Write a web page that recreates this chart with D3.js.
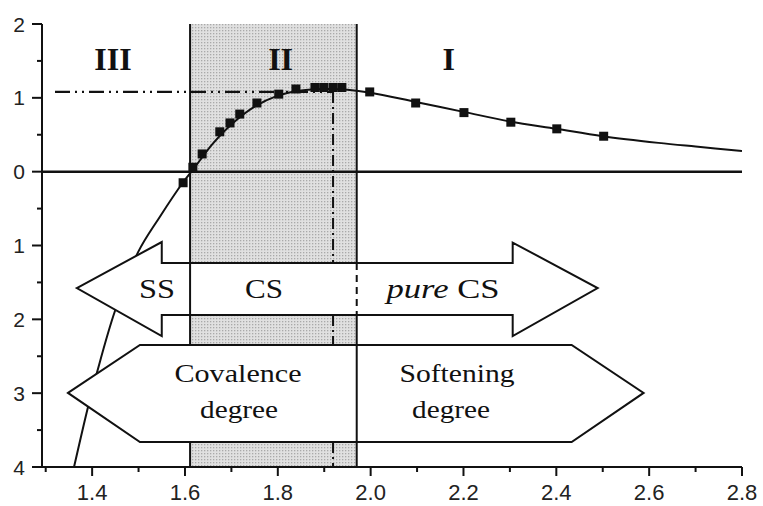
<!DOCTYPE html>
<html>
<head>
<meta charset="utf-8">
<script src="https://cdn.jsdelivr.net/npm/d3@7"></script>
<style>
body { margin: 0; background: #fff; }
</style>
</head>
<body>
<div id="svg1"></div>
<script>
// x ticks / y ticks (y labels shown without sign, as in the figure)
var xTicks = [1.4, 1.6, 1.8, 2.0, 2.2, 2.4, 2.6, 2.8];
var yTicks = [2, 1, 0, -1, -2, -3, -4];
var yTickLabels = ["2", "1", "0", "1", "2", "3", "4"];

// measured points (squares)
var pointsX = [1.596, 1.617, 1.637, 1.675, 1.697, 1.718, 1.755, 1.802, 1.839, 1.880, 1.899, 1.919, 1.938, 1.998, 2.097, 2.201, 2.302, 2.401, 2.502];
var pointsY = [-0.15, 0.06, 0.24, 0.54, 0.66, 0.78, 0.93, 1.05, 1.12, 1.14, 1.14, 1.14, 1.14, 1.08, 0.93, 0.80, 0.67, 0.58, 0.48];

// fitted curve
var curveX = [1.361, 1.391, 1.410, 1.449, 1.499, 1.546, 1.594, 1.620, 1.660, 1.700, 1.750, 1.800, 1.850, 1.900, 1.950, 2.000, 2.100, 2.200, 2.300, 2.400, 2.500, 2.620, 2.700, 2.800];
var curveY = [-4.0, -3.19, -2.73, -1.89, -1.09, -0.61, -0.16, 0.05, 0.38, 0.64, 0.88, 1.03, 1.10, 1.12, 1.11, 1.07, 0.94, 0.81, 0.68, 0.58, 0.48, 0.39, 0.34, 0.28];

// regions
var regionLabels = ["III", "II", "I"];
var regionLabelX = [1.445, 1.806, 2.168];
var regionII = [1.611, 1.970];
var peakX = 1.919, peakY = 1.08;

function DessinV() {
	var screen_width = 763, screen_height = 506;
	var svg = d3.select('#svg1').append("svg").attr("width", screen_width).attr("height", screen_height)
		.style("display", "block");

	var x = d3.scaleLinear().domain([1.292, 2.8]).range([42, 742]);
	var y = d3.scaleLinear().domain([2, -4]).range([24, 467]);

	// arrow bands (y, data units)
	var upTop = -1.237, upBot = -1.942, lowTop = -2.347, lowBot = -3.661;

	// dotted texture for region II
	var defs = svg.append("defs");
	var pat = defs.append("pattern").attr("id", "dots").attr("width", 3).attr("height", 3)
		.attr("patternUnits", "userSpaceOnUse");
	pat.append("rect").attr("width", 3).attr("height", 3).attr("fill", "#e0e0e0");
	pat.append("rect").attr("width", 1.3).attr("height", 1.3).attr("fill", "#a9a9a9");
	defs.append("clipPath").attr("id", "clip").append("rect")
		.attr("x", x(1.292)).attr("y", y(2)).attr("width", x(2.8) - x(1.292)).attr("height", y(-4) - y(2));

	svg.append("rect").attr("x", x(regionII[0])).attr("y", y(2))
		.attr("width", x(regionII[1]) - x(regionII[0])).attr("height", y(-4) - y(2))
		.attr("fill", "url(#dots)");

	function vline(xv, y1, y2, w, dash) {
		var l = svg.append("line").attr("x1", x(xv)).attr("x2", x(xv)).attr("y1", y(y1)).attr("y2", y(y2))
			.attr("stroke", "#111").attr("stroke-width", w);
		if (dash) l.attr("stroke-dasharray", dash);
		return l;
	}

	// region borders (they stop where the big arrows cover them)
	vline(regionII[0], 2, lowTop, 2);
	vline(regionII[0], lowBot, -4, 2);
	vline(regionII[1], 2, upTop, 2);
	vline(regionII[1], upBot, -4, 2);

	// dash-dot guides to the maximum
	svg.append("line").attr("x1", x(1.32)).attr("x2", x(peakX)).attr("y1", y(peakY)).attr("y2", y(peakY))
		.attr("stroke", "#111").attr("stroke-width", 2.2).attr("stroke-dasharray", "15,5,2,5,2,5");
	vline(peakX, peakY, upTop, 2, "11,4,2,4");
	vline(peakX, upBot, lowTop, 2, "11,4,2,4");
	vline(peakX, lowBot, -4, 2, "11,4,2,4");

	// zero line
	svg.append("line").attr("x1", x(1.292)).attr("x2", x(2.8)).attr("y1", y(0)).attr("y2", y(0))
		.attr("stroke", "#111").attr("stroke-width", 2.5);

	// curve
	var curveData = curveX.map(function(d, i) { return [d, curveY[i]]; });
	var line = d3.line().x(function(d) { return x(d[0]); }).y(function(d) { return y(d[1]); })
		.curve(d3.curveCatmullRom.alpha(0.5));
	svg.append("path").datum(curveData).attr("d", line).attr("clip-path", "url(#clip)")
		.attr("fill", "none").attr("stroke", "#111").attr("stroke-width", 2);

	// squares
	var pts = pointsX.map(function(d, i) { return [d, pointsY[i]]; });
	svg.selectAll(".pt").data(pts).enter().append("rect").classed("pt", 1)
		.attr("x", function(d) { return x(d[0]) - 4.5; })
		.attr("y", function(d) { return y(d[1]) - 4.5; })
		.attr("width", 9).attr("height", 9).attr("fill", "#111");

	// upper arrow : SS <- | CS | pure CS ->
	var up = [[1.367, -1.576], [1.550, -0.953], [1.550, upTop], [2.306, upTop], [2.306, -0.960],
		[2.489, -1.576], [2.306, -2.226], [2.306, upBot], [1.550, upBot], [1.550, -2.226]];
	svg.append("path").attr("d", "M" + up.map(function(p) { return x(p[0]) + "," + y(p[1]); }).join("L") + "Z")
		.attr("fill", "#fff").attr("stroke", "#111").attr("stroke-width", 2);
	vline(regionII[1], upTop, upBot, 2, "7,5");

	// lower arrow : covalence / softening
	var low = [[1.348, -2.997], [1.503, lowTop], [2.433, lowTop], [2.588, -2.997], [2.433, lowBot], [1.503, lowBot]];
	svg.append("path").attr("d", "M" + low.map(function(p) { return x(p[0]) + "," + y(p[1]); }).join("L") + "Z")
		.attr("fill", "#fff").attr("stroke", "#111").attr("stroke-width", 2);
	vline(regionII[0], upTop, upBot, 2);
	vline(regionII[1], lowTop, lowBot, 2);

	// texts
	var serif = "'Liberation Serif', 'DejaVu Serif', serif";
	function label(tx, ty, size, len) {
		var t = svg.append("text").attr("x", tx).attr("y", ty).attr("text-anchor", "middle")
			.attr("font-family", serif).attr("font-size", size).attr("fill", "#111");
		if (len) t.attr("textLength", len).attr("lengthAdjust", "spacingAndGlyphs");
		return t;
	}
	regionLabels.forEach(function(r, i) {
		label(x(regionLabelX[i]), 70, 32).attr("font-weight", "bold").text(r);
	});
	label(157, 298, 27, 36).text("SS");
	label(264, 298, 27, 38).text("CS");
	var pc = label(443, 298, 27, 113);
	pc.append("tspan").attr("font-style", "italic").text("pure");
	pc.append("tspan").text(" CS");
	label(238, 382, 26, 127).text("Covalence");
	label(239, 418, 26, 78).text("degree");
	label(457, 382, 26, 115).text("Softening");
	label(451, 418, 26, 78).text("degree");

	// axes
	var sans = "'Liberation Sans', Arial, sans-serif";
	var ax = svg.append("g").attr("stroke", "#111").attr("stroke-width", 2);
	ax.append("line").attr("x1", x(1.292)).attr("x2", x(2.8)).attr("y1", y(-4)).attr("y2", y(-4));
	ax.append("line").attr("x1", x(1.292)).attr("x2", x(1.292)).attr("y1", y(2)).attr("y2", y(-4));

	var xMinor = d3.range(1.3, 2.81, 0.1);
	ax.selectAll(".xm").data(xMinor).enter().append("line")
		.attr("x1", function(d) { return x(d); }).attr("x2", function(d) { return x(d); })
		.attr("y1", y(-4)).attr("y2", function(d, i) { return y(-4) + (i % 2 == 1 ? 9 : 5); });
	var yMinor = d3.range(-4, 2.01, 0.5);
	ax.selectAll(".ym").data(yMinor).enter().append("line")
		.attr("y1", function(d) { return y(d); }).attr("y2", function(d) { return y(d); })
		.attr("x1", x(1.292)).attr("x2", function(d, i) { return x(1.292) - (i % 2 == 0 ? 10 : 5); });

	svg.selectAll(".xl").data(xTicks).enter().append("text")
		.attr("x", function(d) { return x(d); }).attr("y", 500).attr("text-anchor", "middle")
		.attr("font-family", sans).attr("font-size", 22).attr("fill", "#222")
		.text(function(d) { return d.toFixed(1); });
	svg.selectAll(".yl").data(yTicks).enter().append("text")
		.attr("x", 25).attr("y", function(d) { return y(d) + 7.5; }).attr("text-anchor", "end")
		.attr("font-family", sans).attr("font-size", 21).attr("fill", "#222")
		.text(function(d, i) { return yTickLabels[i]; });
}
DessinV();
</script>
</body>
</html>
